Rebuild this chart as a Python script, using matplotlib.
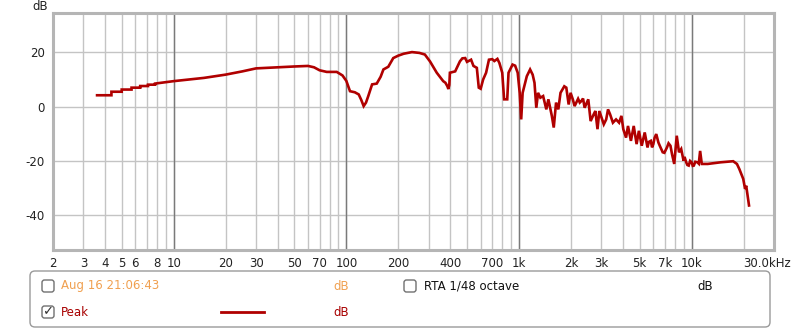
import matplotlib
matplotlib.use("Agg")
import matplotlib.pyplot as plt
from matplotlib.patches import FancyBboxPatch
from matplotlib.transforms import ScaledTranslation

# ---- data ----
freqs = [3.6, 4.36, 4.36, 5.0, 5.0, 5.7, 5.7, 6.4, 6.4, 7.1, 7.1, 7.8, 7.8,
         10, 15, 20, 25, 30, 40, 50, 60, 65, 70, 77, 88, 95, 100, 105, 112, 118,
         122, 126, 130, 134, 141, 150, 158, 164, 175, 187, 200, 215, 240, 265,
         285, 295, 305, 334, 364, 375, 385, 390, 395, 398, 427, 455, 470, 488,
         500, 528, 545, 570, 585, 600, 620, 645, 670, 700, 720, 750, 770, 800, 820,
         855, 870, 918, 950, 983, 1010, 1030, 1050, 1110, 1160, 1200, 1230,
         1260, 1290, 1330, 1380, 1440, 1480, 1550, 1590, 1640, 1690, 1740, 1830,
         1880, 1940, 1990, 2050, 2100, 2200, 2250, 2300, 2350, 2400, 2520, 2600,
         2710, 2770, 2850, 2920, 3100, 3200, 3280, 3370, 3500, 3650, 3800, 3920,
         4020, 4170, 4280, 4450, 4620, 4800, 4950, 5140, 5350, 5550, 5650, 5800,
         5900, 6000, 6100, 6240, 6420, 6550, 6800, 6950, 7200, 7350, 7540, 7700,
         7930, 8200, 8450, 8700, 8980, 9100, 9300, 9450, 9620, 9800, 10000,
         10150, 10300, 10500, 10800, 11000, 11200, 11450, 12400, 14700, 17400,
         18300, 18900, 19900, 20400, 20700, 21500]
levels = [4.2, 4.2, 5.5, 5.5, 6.3, 6.3, 7.0, 7.0, 7.6, 7.6, 8.1, 8.1, 8.5,
          9.4, 10.6, 11.8, 13.0, 14.1, 14.5, 14.8, 15.0, 14.5, 13.4, 12.8, 12.8,
          11.5, 9.5, 5.7, 5.3, 4.5, 2.5, 0.2, 1.5, 3.9, 8.2, 8.5, 11.0, 13.7,
          14.7, 17.9, 18.8, 19.5, 20.1, 19.8, 19.2, 17.9, 16.7, 12.5, 9.4, 8.8,
          7.5, 6.5, 8.0, 12.5, 13.0, 16.7, 17.8, 17.9, 16.5, 17.3, 15.0, 14.3,
          7.0, 6.6, 10.0, 12.5, 17.3, 17.5, 16.8, 17.6, 16.1, 12.5, 2.7, 2.7,
          12.5, 15.5, 15.1, 12.5, 5.0, -4.7, 5.1, 11.2, 13.7, 11.8, 8.8, -0.4,
          5.1, 3.3, 3.9, -1.0, 2.7, -3.4, -7.7, 1.5, -1.0, 5.1, 7.5, 7.0, 0.8,
          5.1, 2.7, 0.2, 2.9, 1.5, 2.1, 3.0, -0.4, 2.7, -5.3, -2.8, -1.6, -8.3,
          -1.6, -6.5, -4.7, -1.0, -2.8, -5.9, -4.7, -5.9, -3.4, -8.3, -11.4,
          -7.1, -12.6, -7.1, -13.8, -8.9, -14.4, -9.5, -15.0, -13.0, -12.6,
          -15.0, -13.8, -11.5, -10.1, -13.2, -14.5, -16.8, -17.0, -15.0, -13.5,
          -14.4, -17.5, -21.1, -10.7, -16.8, -15.6, -19.9, -18.5, -20.5, -21.5,
          -21.7, -20.0, -20.5, -21.8, -21.7, -20.3, -20.5, -21.0, -16.3, -21.1,
          -21.1, -20.5, -20.1, -21.1, -23.0, -26.6, -30.3, -29.1, -36.4]

xtick_vals = [2, 3, 4, 5, 6, 8, 10, 20, 30, 50, 70, 100, 200, 400, 700,
              1000, 2000, 3000, 5000, 7000, 10000, 30000]
xtick_labels = ['2', '3', '4', '5', '6', '8', '10', '20', '30', '50', '70',
                '100', '200', '400', '700', '1k', '2k', '3k', '5k', '7k',
                '10k', '30.0kHz']
ytick_vals = [-40, -20, 0, 20]

LINE = '#b00000'
FS = 8.5

W, H = 800, 329
plt.rcParams['font.family'] = ['DejaVu Sans']
fig = plt.figure(figsize=(W / 100, H / 100), dpi=100)

def fx(px):
    return px / W

def fy(py):
    return 1 - py / H

ax = fig.add_axes([fx(53), fy(250), fx(774) - fx(53), fy(13) - fy(250)])
ax.set_xscale('log')
ax.set_xlim(2, 30000)
ax.set_ylim(-52.8, 34.5)

# grid
minor = [m * 10 ** e for e in range(0, 5) for m in range(2, 10)]
minor = [v for v in minor if 2 <= v <= 30000]
ax.set_xticks(minor, minor=True)
ax.set_xticks(xtick_vals)
ax.set_xticklabels(xtick_labels)
ax.xaxis.set_minor_formatter(matplotlib.ticker.NullFormatter())
ax.set_yticks(ytick_vals)
ax.set_yticklabels([str(v) for v in ytick_vals])
ax.grid(True, which='both', axis='x', color='#c4c4c4', lw=1)
ax.grid(True, which='major', axis='y', color='#c4c4c4', lw=1)
for d in [10, 100, 1000, 10000]:
    ax.axvline(d, color='#7a7a7a', lw=1, zorder=1)
ax.set_axisbelow(True)
ax.tick_params(which='both', length=0, labelsize=FS, colors='#222222')
ax.tick_params(axis='x', pad=5)
ax.tick_params(axis='y', pad=6)

# shift 30.0kHz label
lab = ax.get_xticklabels()[-1]
lab.set_transform(lab.get_transform() + ScaledTranslation(-7 / 100, 0, fig.dpi_scale_trans))

for s in ax.spines.values():
    s.set_color('#b5b5b5')
    s.set_linewidth(2.2)

ax.plot(freqs, levels, color=LINE, lw=1.9, zorder=3, solid_joinstyle='miter')

fig.text(fx(40), fy(6), 'dB', ha='center', va='center', fontsize=FS, color='#222222')

# legend panel
pan = FancyBboxPatch((0.30, 0.02), 7.40, 0.56, boxstyle='round,pad=0,rounding_size=0.05',
                     transform=fig.dpi_scale_trans, facecolor='white',
                     edgecolor='#9a9a9a', lw=1)
fig.patches.append(pan)

def checkbox(x, ytop, checked=False):
    b = FancyBboxPatch((x / 100, (H - ytop - 12) / 100), 0.12, 0.12,
                       boxstyle='round,pad=0,rounding_size=0.025',
                       transform=fig.dpi_scale_trans, facecolor='white',
                       edgecolor='#707070', lw=1)
    fig.patches.append(b)
    if checked:
        fig.text(fx(x + 6), fy(ytop + 6), '\u2713', ha='center', va='center',
                 fontsize=FS + 1, color='#333333')

checkbox(42, 280)
checkbox(42, 306, checked=True)
checkbox(404, 280)

ORANGE = '#f0a050'
DARKRED = '#a80000'
fig.text(fx(61), fy(286), 'Aug 16 21:06:43', ha='left', va='center', fontsize=FS, color=ORANGE)
fig.text(fx(333), fy(286), 'dB', ha='left', va='center', fontsize=FS, color=ORANGE)
fig.text(fx(61), fy(312), 'Peak', ha='left', va='center', fontsize=FS, color=DARKRED)
fig.text(fx(333), fy(312), 'dB', ha='left', va='center', fontsize=FS, color=DARKRED)
fig.lines.append(matplotlib.lines.Line2D([fx(221), fx(264)], [fy(312), fy(312)],
                                         transform=fig.transFigure, color=LINE, lw=2))
fig.text(fx(424), fy(286), 'RTA 1/48 octave', ha='left', va='center', fontsize=FS, color='#111111')
fig.text(fx(697), fy(286), 'dB', ha='left', va='center', fontsize=FS, color='#111111')

fig.savefig('out.png', dpi=100)
